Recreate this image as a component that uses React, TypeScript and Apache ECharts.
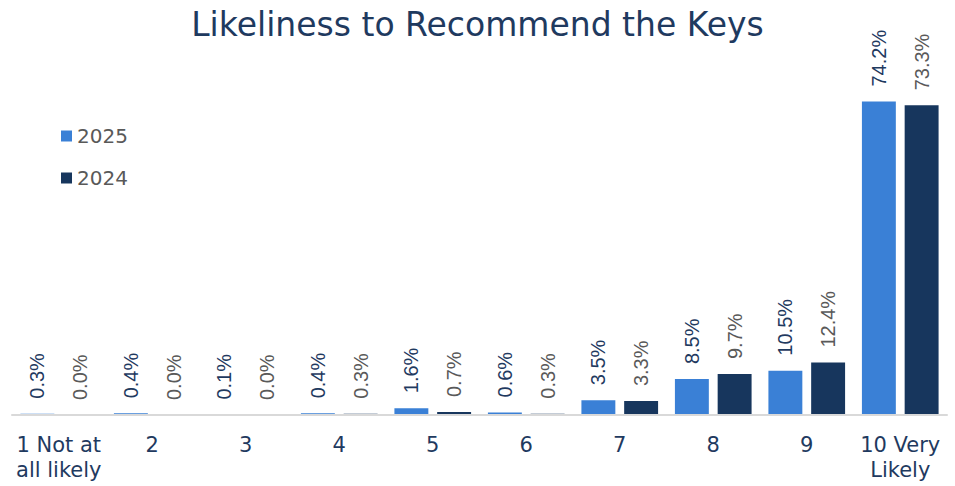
import React, { useEffect, useRef } from "react";
import * as echarts from "echarts";

const categories = ["1 Not at\nall likely", "2", "3", "4", "5", "6", "7", "8", "9", "10 Very\nLikely"];
const values2025 = [0.3, 0.4, 0.1, 0.4, 1.6, 0.6, 3.5, 8.5, 10.5, 74.2];
const values2024 = [0.0, 0.0, 0.0, 0.3, 0.7, 0.3, 3.3, 9.7, 12.4, 73.3];

export default function App() {
  const ref = useRef<HTMLDivElement>(null);
  useEffect(() => {
    if (!ref.current) return;
    const chart = echarts.init(ref.current, undefined, { renderer: "svg" });
    const font = "'DejaVu Sans', 'Liberation Sans', Arial, sans-serif";
    const labelFont = "'Liberation Sans', Arial, sans-serif";
    const labelCfg = (color: string) => ({
      show: true,
      position: "top",
      rotate: 90,
      align: "left",
      verticalAlign: "middle",
      distance: 15,
      color,
      fontSize: 20,
      fontFamily: labelFont,
      formatter: (p: any) => p.value.toFixed(1) + "%",
    });
    chart.setOption({
      animation: false,
      title: {
        text: "Likeliness to Recommend the Keys",
        left: "center",
        top: 3,
        textStyle: { color: "#1f3a5f", fontSize: 33, fontWeight: "normal", fontFamily: font },
      },
      legend: {
        orient: "vertical",
        left: 56,
        top: 121,
        itemWidth: 11,
        itemHeight: 11,
        itemGap: 22,
        icon: "rect",
        textStyle: { color: "#595959", fontSize: 20, fontFamily: font },
        data: ["2025", "2024"],
      },
      grid: { left: 12, right: 8, top: 77, bottom: 71 },
      xAxis: {
        type: "category",
        data: categories,
        z: 5,
        axisLine: { lineStyle: { color: "#d9d9d9", width: 2 } },
        axisTick: { show: false },
        axisLabel: {
          color: "#1f3a5f",
          fontSize: 21,
          fontFamily: font,
          margin: 17,
          lineHeight: 25,
          interval: 0,
        },
      },
      yAxis: { type: "value", min: 0, max: 80, show: false, splitLine: { show: false } },
      series: [
        {
          name: "2025",
          type: "bar",
          data: values2025,
          itemStyle: { color: "#3a80d6" },
          barGap: "26%",
          barCategoryGap: "18%",
          label: labelCfg("#1f3a5f"),
        },
        {
          name: "2024",
          type: "bar",
          data: values2024,
          itemStyle: { color: "#17365d" },
          label: labelCfg("#595959"),
        },
      ],
    });
    return () => chart.dispose();
  }, []);
  return <div ref={ref} style={{ width: 955, height: 486, position: "absolute", left: 0, top: 0 }} />;
}
